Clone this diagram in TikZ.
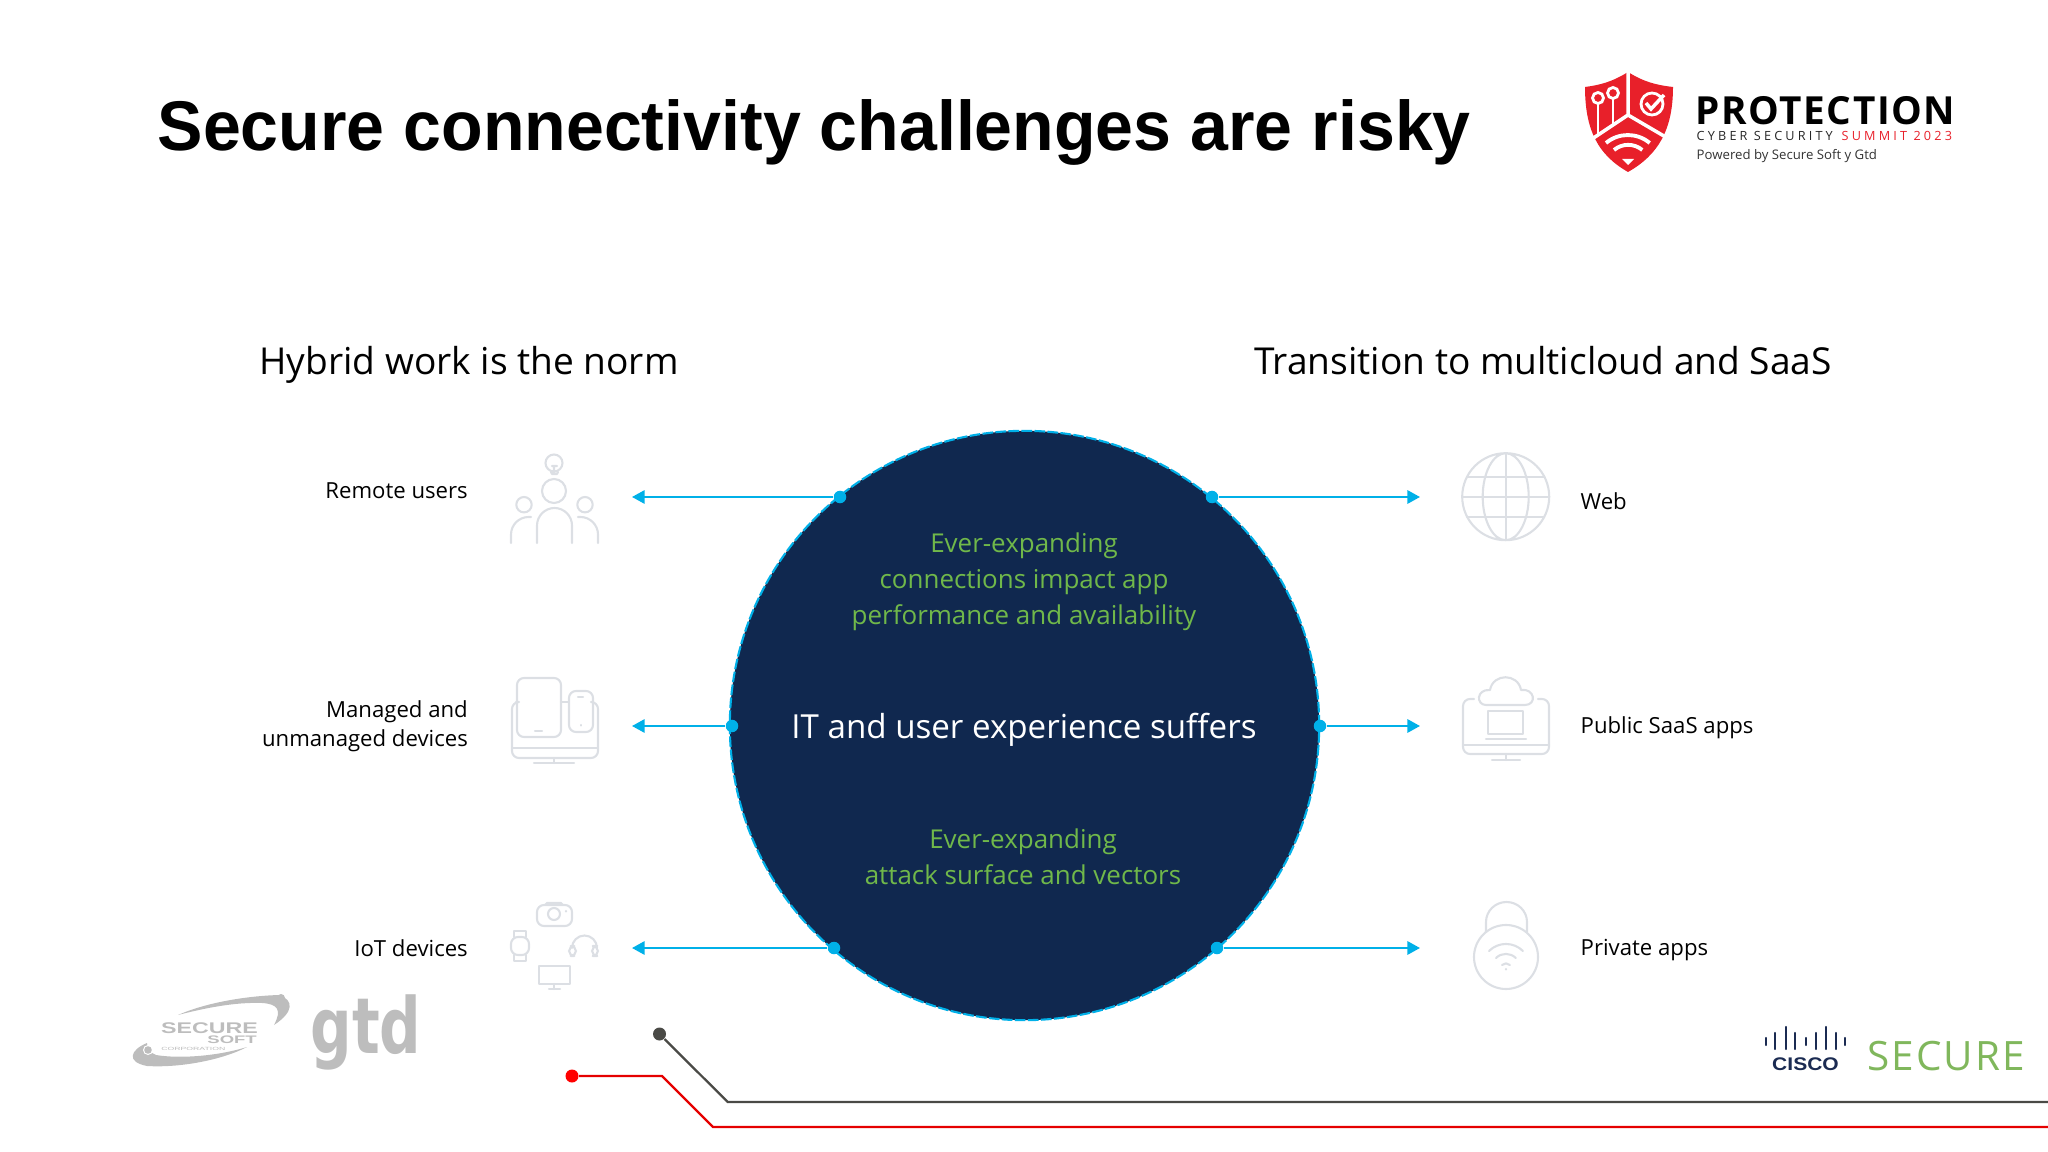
\documentclass[tikz,border=0pt]{standalone}
\usepackage{fontspec}
\setmainfont{Open Sans}
\newfontfamily\titlefont{Liberation Sans}
\newfontfamily\logofont[LetterSpace=25]{Open Sans}
\newfontfamily\powerfont{Open Sans}
\newfontfamily\brandfont[LetterSpace=4]{Open Sans}
\newfontfamily\securefont[LetterSpace=5]{Open Sans}
\newfontfamily\gtdfont{DejaVu Sans}
\usetikzlibrary{arrows.meta}
\definecolor{hubnavy}{HTML}{10284F}
\definecolor{linkcyan}{HTML}{00B0E8}
\definecolor{hubgreen}{HTML}{70B84A}
\definecolor{iconline}{HTML}{DCDFE4}
\definecolor{logored}{HTML}{E8202A}
\definecolor{logogray}{HTML}{BDBDBD}
\definecolor{ciscoblue}{HTML}{1B2B52}
\definecolor{securegreen}{HTML}{80B75C}
\definecolor{traceg}{HTML}{4A4A46}
\tikzset{
  hub/.style={circle,draw=linkcyan,line width=0.6pt,dash pattern=on 3pt off 0.7pt,fill=hubnavy,minimum size=5.89cm,inner sep=0pt},
  portdot/.style={circle,fill=linkcyan,minimum size=0.125cm,inner sep=0pt},
  flowarrow/.style={linkcyan,line width=0.6pt,-{Triangle[length=3.6pt,width=3.8pt]}},
  icon/.style={iconline,line width=0.6pt,line cap=round,line join=round},
  heading/.style={font=\fontsize{10.55}{12}\selectfont,text=black,inner sep=0pt},
  itemlabel/.style={font=\fontsize{6.3}{8.25}\selectfont,text=black,inner sep=0pt},
  greennote/.style={font=\fontsize{7.38}{10.2}\selectfont,text=hubgreen,align=center,inner sep=0pt},
}
\begin{document}
\begin{tikzpicture}[x=0.01cm,y=-0.01cm]
  \useasboundingbox (0,0) rectangle (2048,1152);
  \node[anchor=base west,inner sep=0pt,font=\titlefont\bfseries\fontsize{20}{24}\selectfont,xscale=0.968] (title) at (157,151) {Secure connectivity challenges are risky};

  % shield logo
  \fill[logored] (1628,72) .. controls (1612,82) and (1600,85) .. (1585,87) .. controls (1585,130) and (1598,155) .. (1628,172) .. controls (1658,155) and (1673,130) .. (1673,87) .. controls (1656,85) and (1644,82) .. (1628,72) -- cycle;
  \draw[white,line width=1pt] (1628,70) -- (1628,115) -- (1592,139) (1628,115) -- (1669,139);
  \draw[white,line width=0.8pt] (1598,104) -- (1598,135) (1613,99) -- (1613,124);
  \draw[white,line width=0.8pt,fill=logored] (1598,98) circle[radius=5.5] (1613,93) circle[radius=5.5];
  \draw[white,line width=0.8pt] (1652,104) circle[radius=11];
  \draw[white,line width=1pt] (1646,103) -- (1651,109) -- (1664,95);
  \draw[white,line width=1.1pt] (1606,143) arc[start angle=230,end angle=310,radius=34];
  \draw[white,line width=1.1pt] (1614,150) arc[start angle=230,end angle=310,radius=22];
  \fill[white] (1622,159) -- (1634,159) -- (1628,165) -- cycle;
  \node[anchor=base west,inner sep=0pt,font=\brandfont\bfseries\fontsize{11}{12}\selectfont] (brand) at (1695,125) {PROTECTION};
  \node[anchor=base west,inner sep=0pt,font=\logofont\fontsize{3.6}{4}\selectfont,text=black!85] (summit) at (1696,141) {CYBER SECURITY};
  \node[anchor=base west,inner sep=0pt,font=\logofont\fontsize{3.6}{4}\selectfont,text=logored] (year) at (1841,141) {SUMMIT 2023};
  \node[anchor=base west,inner sep=0pt,font=\powerfont\fontsize{3.75}{4}\selectfont,text=black!80] (powered) at (1696,160) {Powered by Secure Soft y Gtd};

  % headings
  \node[heading,anchor=base] (hybrid) at (469,375) {Hybrid work is the norm};
  \node[heading,anchor=base] (cloud) at (1543,375) {Transition to multicloud and SaaS};

  % hub
  \node[hub] (core) at (1024.5,725.5) {};
  \node[greennote] (noteA) at (1024,582) {Ever-expanding\\connections impact app\\performance and availability};
  \node[font=\fontsize{9.42}{11}\selectfont,text=white,inner sep=0pt] (suffers) at (1024,730) {IT and user experience suffers};
  \node[greennote] (noteB) at (1023,857) {Ever-expanding\\attack surface and vectors};

  % ports and arrows
  \node[portdot] (pRemote) at (840,497) {};
  \node[portdot] (pDevices) at (732,726) {};
  \node[portdot] (pIot) at (834,948) {};
  \node[portdot] (pWeb) at (1212,497) {};
  \node[portdot] (pSaas) at (1320,726) {};
  \node[portdot] (pPrivate) at (1217,948) {};
  \coordinate (tRemote) at (632,497);
  \coordinate (tDevices) at (632,726);
  \coordinate (tIot) at (632,948);
  \coordinate (tWeb) at (1420,497);
  \coordinate (tSaas) at (1420,726);
  \coordinate (tPrivate) at (1420,948);
  \draw[flowarrow] (pRemote) -- (tRemote);
  \draw[flowarrow] (pDevices) -- (tDevices);
  \draw[flowarrow] (pIot) -- (tIot);
  \draw[flowarrow] (pWeb) -- (tWeb);
  \draw[flowarrow] (pSaas) -- (tSaas);
  \draw[flowarrow] (pPrivate) -- (tPrivate);

  % item labels
  \node[itemlabel,anchor=east] (remote) at (468.5,491) {Remote users};
  \node[itemlabel,anchor=east,align=right] (managed) at (468.5,726.5) {Managed and\\unmanaged devices};
  \node[itemlabel,anchor=east] (iot) at (468.5,948) {IoT devices};
  \node[itemlabel,anchor=west] (web) at (1580,501) {Web};
  \node[itemlabel,anchor=west] (saas) at (1580,727.5) {Public SaaS apps};
  \node[itemlabel,anchor=west] (private) at (1580,950.5) {Private apps};

  % people icon
  \draw[icon] (554,463) circle[radius=8.5] (551,472) -- (552,474) -- (557,474) -- (558,472) (554,466) -- (554,474) (552,466) -- (557,466);
  \draw[icon] (554,491) circle[radius=12] (524,504.7) circle[radius=7.7] (585,504.7) circle[radius=7.7];
  \draw[icon,rounded corners=5] (537,543) -- (537,508) -- (572,508) -- (572,543);
  \draw[icon,rounded corners=5] (511,543) -- (511,517) -- (531,517);
  \draw[icon,rounded corners=5] (598,543) -- (598,517) -- (578,517);

  % devices icon
  \draw[icon,rounded corners=2] (516,702) -- (512,702) -- (512,758) -- (598,758) -- (598,702) -- (593,702);
  \draw[icon] (561,702) -- (568,702) (512,748) -- (598,748) (554,758) -- (554,763) (534,763) -- (574,763);
  \draw[icon,rounded corners=2] (517,678) rectangle (561,737);
  \draw[icon,rounded corners=2] (569,691) rectangle (593,732);
  \draw[icon] (535,731) -- (542,731) (578,697) -- (583,697) (581,725) -- (581,725.5);

  % iot icon
  \draw[icon,rounded corners=2] (537,905) rectangle (572,926);
  \draw[icon] (545,905) -- (547,903) -- (561,903) -- (563,905) (554,914) circle[radius=6] (566,911) -- (566,911.5);
  \draw[icon,rounded corners=2] (511,937) rectangle (529,955);
  \draw[icon] (514,937) -- (514,931) -- (526,931) -- (526,937) (514,955) -- (514,961) -- (526,961) -- (526,955);
  \draw[icon] (572,948) arc[start angle=180,end angle=360,radius=12.5];
  \draw[icon,rounded corners=1.5] (569,946) rectangle (576,956) (592,946) rectangle (598,956);
  \draw[icon] (539,966) rectangle (570,984) (554,984) -- (554,989) (549,989) -- (560,989);

  % globe icon
  \draw[icon] (1505.7,496.7) circle[radius=43.5] (1505.7,496.7) ellipse[x radius=23,y radius=43.5];
  \draw[icon] (1505.7,453.2) -- (1505.7,540.2) (1462.2,496.7) -- (1549.2,496.7) (1467,476.7) -- (1544.4,476.7) (1467,516.7) -- (1544.4,516.7);

  % cloud monitor icon
  \draw[icon,rounded corners=2] (1474,699) -- (1463,699) -- (1463,754) -- (1549,754) -- (1549,699) -- (1538,699);
  \draw[icon] (1463,745) -- (1549,745) (1506,754) -- (1506,760) (1492,760) -- (1520,760);
  \draw[icon] (1486,705) .. controls (1476,705) and (1476,689) .. (1490,690) .. controls (1493,673) and (1518,673) .. (1521,690) .. controls (1535,688) and (1537,705) .. (1525,705) -- cycle;
  \draw[icon] (1488,711) rectangle (1523,734) (1486,739) -- (1526,739);

  % lock icon
  \draw[icon] (1506,957) circle[radius=32];
  \draw[icon] (1486,932) -- (1486,922) arc[start angle=180,end angle=360,x radius=20.5,y radius=20] -- (1527,932);
  \draw[icon] (1489,951) arc[start angle=225,end angle=315,radius=24] (1496,958) arc[start angle=225,end angle=315,radius=14] (1502,965) arc[start angle=225,end angle=315,radius=5.6] (1506,969) -- (1506,969.5);

  % secure soft logo
  \fill[logogray] (178,1015) .. controls (205,1003) and (245,996) .. (279,995) .. controls (294,1000) and (294,1012) .. (274,1025) .. controls (282,1010) and (278,1004) .. (262,1003) .. controls (235,1002) and (205,1008) .. (178,1015) -- cycle;
  \fill[logogray] (281,998) circle[radius=4];
  \fill[logogray] (147,1043) .. controls (130,1050) and (126,1062) .. (147,1066) .. controls (180,1068) and (222,1060) .. (247,1047) .. controls (218,1056) and (180,1059) .. (156,1055) .. controls (150,1053) and (147,1048) .. (147,1043) -- cycle;
  \fill[white] (148,1050) circle[radius=5];
  \fill[logogray] (148,1050) circle[radius=3.8];
  \node[anchor=base west,inner sep=0pt,font=\titlefont\bfseries\fontsize{4.4}{5}\selectfont,text=logogray,xscale=1.5] (sslogo) at (160,1033) {SECURE};
  \node[anchor=base east,inner sep=0pt,font=\titlefont\bfseries\fontsize{3.1}{4}\selectfont,text=logogray,xscale=1.7] (softlogo) at (258,1043) {SOFT};
  \node[anchor=base west,inner sep=0pt,font=\titlefont\fontsize{1.3}{2}\selectfont,text=logogray,xscale=1.9] (corp) at (160,1050) {CORPORATION};
  \node[anchor=base west,inner sep=0pt,font=\gtdfont\bfseries\fontsize{22}{26}\selectfont,text=logogray,xscale=0.75] (gtd) at (310,1053) {gtd};

  % cisco logo
  \foreach \bx/\btop/\bbot in {1766/1038/1045,1775/1033/1049,1786/1027/1049,1795/1033/1049,1806/1038/1045,1816/1033/1049,1826/1027/1049,1836/1033/1049,1845/1038/1045}
    \draw[ciscoblue,line width=0.7pt,line cap=round] (\bx,\btop) -- (\bx,\bbot);
  \node[anchor=base,inner sep=0pt,font=\titlefont\bfseries\fontsize{5.2}{7}\selectfont,text=ciscoblue,xscale=1.15] (cisco) at (1805.5,1070) {CISCO};
  \node[anchor=base west,inner sep=0pt,font=\securefont\fontsize{11.5}{12}\selectfont,text=securegreen] (secure) at (1867,1070) {SECURE};

  % traces
  \node[circle,fill=traceg,minimum size=0.13cm,inner sep=0pt] (dotGray) at (659.5,1034) {};
  \node[circle,fill=red,minimum size=0.13cm,inner sep=0pt] (dotRed) at (572,1076) {};
  \coordinate (endGray) at (2048,1102);
  \coordinate (endRed) at (2048,1127);
  \draw[traceg,line width=0.65pt] (dotGray) -- (727.7,1102) -- (endGray);
  \draw[red!90!black,line width=0.65pt] (dotRed) -- (662,1076) -- (713,1127) -- (endRed);
\end{tikzpicture}
\end{document}
